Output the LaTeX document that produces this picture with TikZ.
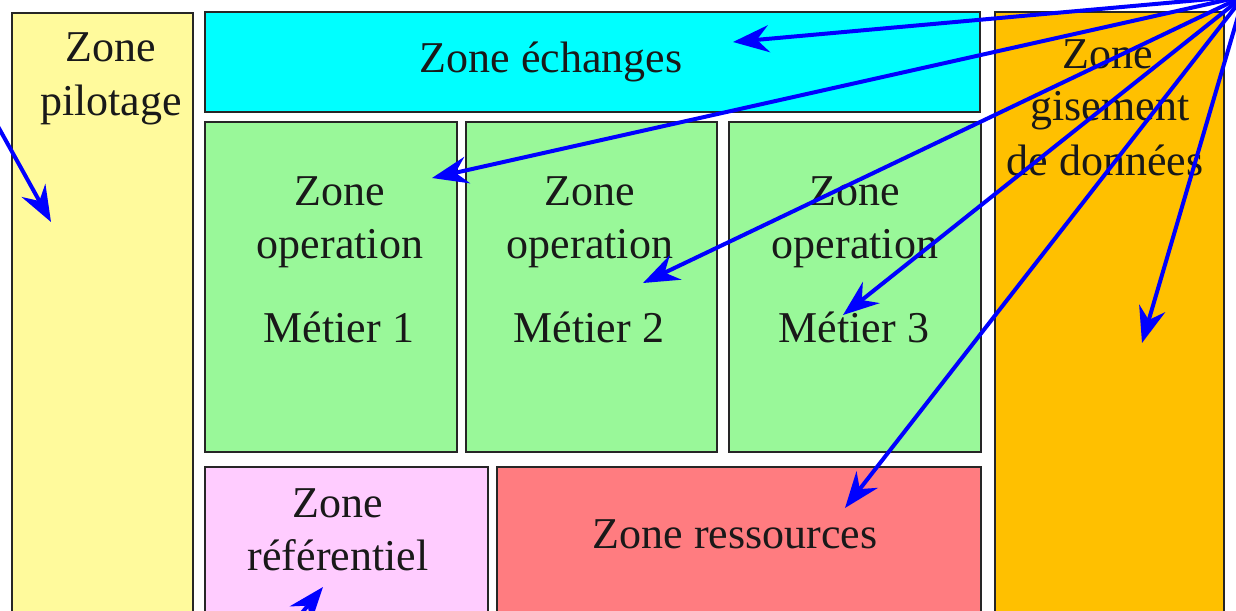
\documentclass[tikz,border=0pt]{standalone}
\usepackage{fontspec}
\setmainfont{Liberation Serif}
\usetikzlibrary{arrows.meta}
\definecolor{cpil}{HTML}{FFFA9C}
\definecolor{cech}{HTML}{00FFFF}
\definecolor{cmet}{HTML}{99F899}
\definecolor{cref}{HTML}{FFCCFF}
\definecolor{cres}{HTML}{FF7C80}
\definecolor{cgis}{HTML}{FFC000}
\definecolor{arr}{HTML}{0000FF}
\begin{document}
\begin{tikzpicture}[x=1pt,y=-1pt,
  zone/.style={draw=black!85, line width=1.8pt, anchor=north west, inner sep=0pt, outer sep=0pt},
  txt/.style={anchor=base, inner sep=0pt, font=\fontsize{44}{53}\selectfont, text=black!90},
  ptr/.style={draw=arr, line width=4pt, -{Stealth[length=36pt,width=27pt,inset=12pt]}}]
\useasboundingbox (0,0) rectangle (1236,610);
\clip (0,0) rectangle (1236,610);
\fill[white] (0,0) rectangle (1236,610);
% boxes
\node[zone, fill=cpil, minimum width=181pt, minimum height=612pt] (pil) at (12,13) {};
\node[zone, fill=cech, minimum width=775pt, minimum height=100pt] (ech) at (205,12) {};
\node[zone, fill=cmet, minimum width=252pt, minimum height=330pt] (m1) at (205,122) {};
\node[zone, fill=cmet, minimum width=251pt, minimum height=330pt] (m2) at (466,122) {};
\node[zone, fill=cmet, minimum width=252pt, minimum height=330pt] (m3) at (729,122) {};
\node[zone, fill=cref, minimum width=283pt, minimum height=160pt] (ref) at (205,467) {};
\node[zone, fill=cres, minimum width=484pt, minimum height=160pt] (res) at (497,467) {};
\node[zone, fill=cgis, minimum width=229pt, minimum height=612pt] (gis) at (995,12) {};
% texts
\node[txt] (pil1) at (111,62) {Zone};
\node[txt] (pil2) at (111,115) {pilotage};
\node[txt] (ech1) at (551,73) {Zone échanges};
\node[txt] (m1a) at (340,205) {Zone};
\node[txt] (m1b) at (340,258) {operation};
\node[txt] (m1c) at (339,342) {Métier 1};
\node[txt] (m2a) at (590,205) {Zone};
\node[txt] (m2b) at (590,258) {operation};
\node[txt] (m2c) at (589,342) {Métier 2};
\node[txt] (m3a) at (855,205) {Zone};
\node[txt] (m3b) at (855,258) {operation};
\node[txt] (m3c) at (854,342) {Métier 3};
\node[txt] (ref1) at (338,517) {Zone};
\node[txt] (ref2) at (338,570) {référentiel};
\node[txt] (res1) at (735,548) {Zone ressources};
\node[txt] (gis1) at (1108,68) {Zone};
\node[txt] (gis2) at (1110,120) {gisement};
\node[txt] (gis3) at (1105,175) {de données};
% arrow ends
\coordinate (src) at (1244,-4);
\coordinate (lsrc) at (-10,112);
\coordinate (bsrc) at (292,625);
\coordinate (tech) at (733,42);
\coordinate (tm1) at (432,178);
\coordinate (tm2) at (643,283);
\coordinate (tm3) at (843,315);
\coordinate (tres) at (845,508);
\coordinate (tgis) at (1142,343);
\coordinate (tpil) at (51,222);
\coordinate (tref) at (323,587);
% arrows
\draw[ptr] (src) -- (tech);
\draw[ptr] (src) -- (tm1);
\draw[ptr] (src) -- (tm2);
\draw[ptr] (src) -- (tm3);
\draw[ptr] (src) -- (tres);
\draw[ptr] (src) -- (tgis);
\draw[ptr] (lsrc) -- (tpil);
\draw[ptr] (bsrc) -- (tref);
\end{tikzpicture}
\end{document}
